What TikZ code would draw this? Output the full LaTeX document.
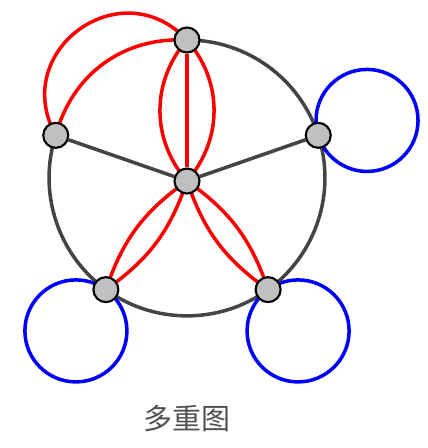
\documentclass[tikz,border=0pt]{standalone}
\usepackage{fontspec}
\newfontfamily\cjk{Noto Sans CJK SC}
\usetikzlibrary{backgrounds}
\definecolor{rimgray}{HTML}{444444}
\definecolor{vtxgray}{HTML}{C0C0C0}
\definecolor{capgray}{HTML}{505050}
\tikzset{
  vtx/.style={circle,draw=black,fill=vtxgray,line width=1.2pt,minimum size=0.5cm,inner sep=0pt},
  rim/.style={draw=rimgray,line width=2pt},
  rimarc/.style={rim,bend left=36,looseness=0.94},
  multi/.style={draw=red,line width=2pt},
  selfloop/.style={draw=blue,line width=2pt}
}
\begin{document}
\begin{tikzpicture}[x=0.02cm,y=0.02cm]
      \useasboundingbox (-187,178) rectangle (240,-270);
      \draw
        (90:138) node[vtx] (t){}
        (162:138) node[vtx] (l){}
        (18:138) node[vtx] (r){}
        (234:138) node[vtx] (bl){}
        (306:138) node[vtx] (br){}
        (0,-3) node[vtx] (c){};
      \begin{scope}[on background layer]
        \draw[rimarc] (t.center) to (r.center);
        \draw[rimarc] (r.center) to (br.center);
        \draw[rimarc] (br.center) to (bl.center);
        \draw[rimarc] (bl.center) to (l.center);
        \draw[rim] (l) to (c);
        \draw[rim] (r) to (c);
        \draw[multi] (l.center) to[bend left=83,looseness=1.52] (t.center);
        \draw[multi] (l.center) to[bend left=39] (t.center);
        \draw[multi] (t) to (c);
        \draw[multi] (t.center) to[bend left=41] (c.center);
        \draw[multi] (t.center) to[bend right=41] (c.center);
        \draw[multi] (c.center) to[bend left=18] (bl.center);
        \draw[multi] (c.center) to[bend right=18] (bl.center);
        \draw[multi] (c.center) to[bend left=18] (br.center);
        \draw[multi] (c.center) to[bend right=18] (br.center);
        \draw[selfloop] (r) ++(17:51) circle (51);
        \draw[selfloop] (bl) ++(234:51) circle (51);
        \draw[selfloop] (br) ++(306:51) circle (51);
      \end{scope}
      \node[text=capgray,font=\cjk\fontsize{16.5}{20}\selectfont] (cap) at (0,-240) {多重图};
    \end{tikzpicture}
\end{document}
